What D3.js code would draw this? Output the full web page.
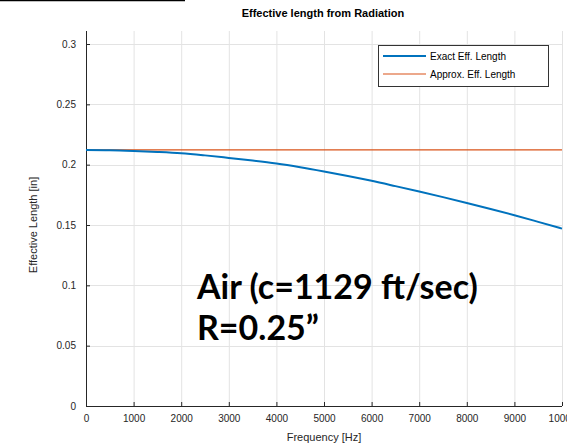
<!DOCTYPE html>
<html><head><meta charset="utf-8">
<script src="https://cdn.jsdelivr.net/npm/d3@7"></script>
<style>body{margin:0;background:#fff;}svg{display:block;}</style>
</head><body>
<svg id="c" width="567" height="448"></svg>
<script>
const freq = [0,500,1000,1500,2000,2500,3000,3500,4000,4500,5000,5500,6000,6500,7000,7500,8000,8500,9000,9500,10000];
const exactLen = [0.2122,0.2120,0.2114,0.2106,0.2095,0.2077,0.2056,0.2034,0.2009,0.1978,0.1943,0.1906,0.1866,0.1822,0.1777,0.1731,0.1683,0.1633,0.1581,0.1526,0.1470];
const approxLen = [0.2123,0.2123];
const approxFreq = [0,10000];
const xTicks = [0,1000,2000,3000,4000,5000,6000,7000,8000,9000,10000];
const yTicks = [0,0.05,0.1,0.15,0.2,0.25,0.3];
const seriesNames = ["Exact Eff. Length","Approx. Eff. Length"];

const svg = d3.select("#c");
const L=86, R=562, T=31, B=406;
const x = d3.scaleLinear().domain([0,10000]).range([L,R]);
const y = d3.scaleLinear().domain([0,0.3]).range([B,44]);

// top-left black line
svg.append("line").attr("x1",0).attr("x2",185).attr("y1",0.5).attr("y2",0.5).attr("stroke","#000").attr("stroke-width",1.5);

// grid
const g = svg.append("g");
g.selectAll(".vx").data(xTicks).enter().append("line")
 .attr("x1",d=>x(d)+0.5).attr("x2",d=>x(d)+0.5).attr("y1",T).attr("y2",B)
 .attr("stroke","#e3e3e3").attr("stroke-width",1);
g.selectAll(".hy").data(yTicks).enter().append("line")
 .attr("x1",L).attr("x2",R).attr("y1",d=>Math.round(y(d))+0.5).attr("y2",d=>Math.round(y(d))+0.5)
 .attr("stroke","#e3e3e3").attr("stroke-width",1);

// axes
const xAxis = d3.axisBottom(x).tickValues(xTicks).tickSizeInner(-4).tickSizeOuter(0).tickPadding(9).tickFormat(d3.format("d"));
const yAxis = d3.axisLeft(y).tickValues(yTicks).tickSizeInner(-4).tickSizeOuter(0).tickPadding(10).tickFormat(d=>d===0?"0":String(d));
const gx = svg.append("g").attr("transform",`translate(0,${B})`).call(xAxis);
const gy = svg.append("g").attr("transform",`translate(${L},0)`).call(yAxis);
gy.select(".domain").attr("d",`M0.5,${B}V${T}`);
gx.select(".domain").attr("d",`M${L},0.5H${R}`);
[gx,gy].forEach(a=>{
  a.selectAll(".domain").attr("stroke","#262626");
  a.selectAll(".tick line").attr("stroke","#262626");
  a.selectAll(".tick text").attr("fill","#262626").style("font-family","Liberation Sans, Arial, sans-serif").style("font-size","10px");
});

// lines
const line = d3.line().x(d=>x(d[0])).y(d=>y(d[1])).curve(d3.curveMonotoneX);
svg.append("path").datum(approxFreq.map((f,i)=>[f,approxLen[i]])).attr("d",line)
 .attr("fill","none").attr("stroke","#D95319").attr("stroke-width",1.2);
svg.append("path").datum(freq.map((f,i)=>[f,exactLen[i]])).attr("d",line)
 .attr("fill","none").attr("stroke","#0072BD").attr("stroke-width",2);

// title & labels
const font = "Liberation Sans, Arial, sans-serif";
svg.append("text").attr("x",323).attr("y",17).attr("text-anchor","middle").attr("font-family",font)
 .attr("font-weight","bold").attr("font-size","11px").attr("fill","#000").text("Effective length from Radiation");
svg.append("text").attr("x",324).attr("y",441).attr("text-anchor","middle").attr("font-family",font)
 .attr("font-size","11px").attr("fill","#262626").text("Frequency [Hz]");
svg.append("text").attr("transform","translate(37,225) rotate(-90)").attr("text-anchor","middle").attr("font-family",font)
 .attr("font-size","11px").attr("fill","#262626").text("Effective Length [in]");

// legend
const lg = svg.append("g");
lg.append("rect").attr("x",378.5).attr("y",45.5).attr("width",170).attr("height",41).attr("fill","#fff").attr("stroke","#333").attr("stroke-width",1);
const lcolors = ["#0072BD","#D95319"], lw=[2,1.2];
seriesNames.forEach((n,i)=>{
  const yy = 56 + i*18;
  lg.append("line").attr("x1",383).attr("x2",426).attr("y1",yy).attr("y2",yy).attr("stroke",lcolors[i]).attr("stroke-width",lw[i]);
  lg.append("text").attr("x",430).attr("y",yy+3.5).attr("font-family",font).attr("font-size","10px").attr("fill","#000").text(n);
});

// annotation
const af = "Lato, 'Open Sans', sans-serif";
svg.append("text").attr("x",197).attr("y",299).attr("font-family",af).attr("font-weight","bold").attr("font-size","34px").attr("fill","#000").text("Air (c=1129 ft/sec)");
svg.append("text").attr("x",197).attr("y",340).attr("font-family",af).attr("font-weight","bold").attr("font-size","34px").attr("fill","#000").text("R=0.25\u201D");
</script>
</body></html>
